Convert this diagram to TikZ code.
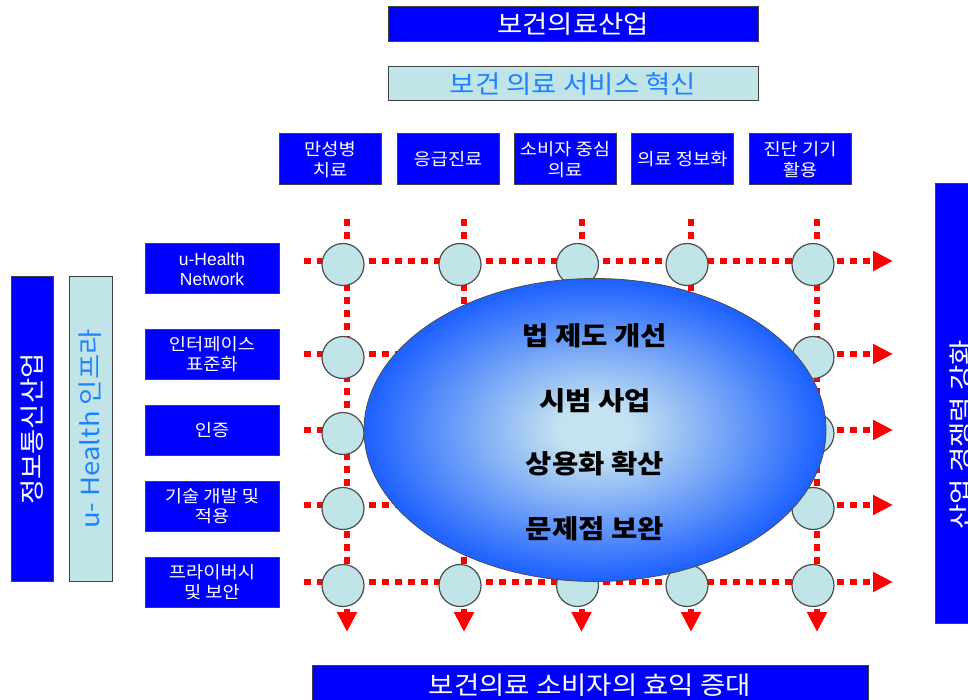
\documentclass[tikz,border=0pt]{standalone}
\usepackage{fontspec}
\setmainfont[FakeStretch=1.1]{Noto Sans CJK KR}
\newfontfamily\latinsans{Liberation Sans}
\usetikzlibrary{arrows.meta,shapes.geometric}
\definecolor{boxblue}{RGB}{0,0,255}
\definecolor{lightfill}{RGB}{192,228,232}
\definecolor{lighttext}{RGB}{30,130,255}
\definecolor{gridred}{RGB}{255,0,0}
\definecolor{ellin}{RGB}{196,226,240}
\definecolor{ellout}{RGB}{28,96,255}
\pgfdeclareradialshading{ellshade}{\pgfpointorigin}{color(0bp)=(ellin); color(4bp)=(ellin); color(25bp)=(ellout); color(50bp)=(ellout)}
\begin{document}
\begin{tikzpicture}[x=1pt,y=-1pt,
  bluebox/.style={draw=black!75, line width=1pt, fill=boxblue, text=white, inner sep=0pt, align=center},
  lightbox/.style={draw=black!75, line width=1pt, fill=lightfill, text=lighttext, inner sep=0pt, align=center},
  bigfont/.style={font=\fontsize{25}{28}\selectfont},
  smallbox/.style={bluebox, minimum width=102pt, minimum height=51pt, font=\fontsize{17}{20.5}\selectfont},
  rowbox/.style={bluebox, minimum width=134pt, minimum height=50pt, font=\fontsize{17}{20.5}\selectfont},
  gridline/.style={draw=gridred, line width=6pt, dash pattern=on 7pt off 6pt, -{Triangle[length=20pt,width=19pt]}},
  knot/.style={circle, draw=black!70, line width=1.2pt, fill=lightfill, minimum size=42pt, inner sep=0pt},
  elltext/.style={font=\fontsize{26}{30}\selectfont\bfseries, text=black}
]
\useasboundingbox (0,0) rectangle (968,700);
\clip (0,0) rectangle (968,700);

% top boxes
\node[bluebox, bigfont, minimum width=370pt, minimum height=35pt] (ind) at (573,24.5) {보건의료산업};
\node[lightbox, bigfont, minimum width=370pt, minimum height=34pt] (svc) at (573,84) {보건 의료 서비스 혁신};

\node[smallbox] (s1) at (330,159.5) {만성병\\치료};
\node[smallbox] (s2) at (448,159.5) {응급진료};
\node[smallbox] (s3) at (565,159.5) {소비자 중심\\의료};
\node[smallbox] (s4) at (682.5,159.5) {의료 정보화};
\node[smallbox] (s5) at (800,159.5) {진단 기기\\활용};

% left vertical boxes
\node[bluebox, bigfont, rotate=90, minimum width=304pt, minimum height=42pt] (ict) at (32,429) {정보통신산업};
\node[lightbox, bigfont, rotate=90, minimum width=304pt, minimum height=43pt] (infra) at (90.5,429) {u- Health 인프라};

% row boxes
\node[rowbox, font=\latinsans\fontsize{17.5}{20}\selectfont] (r1) at (212,269) {u-Health\\Network};
\node[rowbox] (r2) at (212,354) {인터페이스\\표준화};
\node[rowbox] (r3) at (212,430) {인증};
\node[rowbox] (r4) at (212,506) {기술 개발 및\\적용};
\node[rowbox] (r5) at (212,582) {프라이버시\\및 보안};

% right box
\node[bluebox, rotate=90, minimum width=439pt, minimum height=50pt] (comp) at (960,403.5) {};
\node[bigfont, text=white, rotate=90] (compt) at (961,435) {산업 경쟁력 강화};

% bottom box
\node[bluebox, bigfont, minimum width=556pt, minimum height=40pt] (ben) at (590,685) {보건의료 소비자의 효익 증대};

% grid
\foreach \i/\cx in {1/347,2/464,3/581.5,4/691,5/817} {
  \coordinate (vs\i) at (\cx,219);
  \coordinate (ve\i) at (\cx,632);
}
\foreach \j/\ry in {1/261,2/354,3/430,4/505,5/582} {
  \coordinate (hs\j) at (304,\ry);
  \coordinate (he\j) at (893,\ry);
}
\foreach \i in {1,...,5} \draw[gridline] (vs\i) -- (ve\i);
\foreach \j in {1,...,5} \draw[gridline] (hs\j) -- (he\j);
\foreach \i/\cx in {1/347,2/464,3/581.5,4/691,5/817} {
  \foreach \j/\ry in {1/261,2/354,3/430,4/505,5/582} {
    \node[knot] (k\i\j) at (\cx-4,\ry+3.5) {};
  }
}

% core ellipse
\node[ellipse, draw=black!70, line width=0.8pt, minimum width=462pt, minimum height=303pt, shading=ellshade, inner sep=0pt] (core) at (595,430) {};
\node[elltext] (e1) at (595,336) {법 제도 개선};
\node[elltext] (e2) at (595,401) {시범 사업};
\node[elltext] (e3) at (595,464) {상용화 확산};
\node[elltext] (e4) at (595,529) {문제점 보완};
\end{tikzpicture}
\end{document}
